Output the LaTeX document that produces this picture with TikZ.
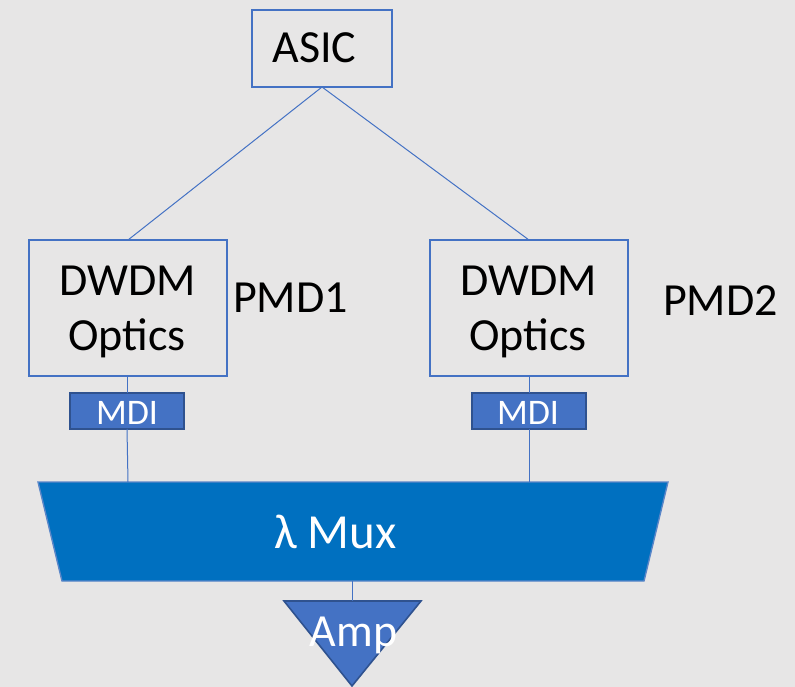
\documentclass[tikz,border=0pt]{standalone}
\usepackage{fontspec}
\setmainfont{Carlito}
\definecolor{bg}{HTML}{E7E6E6}
\definecolor{accent}{HTML}{4472C4}
\definecolor{accentdark}{HTML}{2F528F}
\definecolor{muxfill}{HTML}{0070C0}
\definecolor{muxedge}{HTML}{5A86C8}
\tikzset{
  box/.style={draw=accent, line width=1.4pt, fill=none, inner sep=0pt, outer sep=0pt},
  mdibox/.style={draw=accentdark, line width=1.6pt, fill=accent, inner sep=0pt, outer sep=0pt, minimum width=114pt, minimum height=36pt},
  link/.style={draw=accent, line width=1pt},
  bigtxt/.style={font=\fontsize{46}{55}\selectfont, text=black, inner sep=0pt, anchor=base},
  whitetxt/.style={font=\fontsize{46}{55}\selectfont, text=white, inner sep=0pt, anchor=base},
  mditxt/.style={font=\fontsize{36}{42}\selectfont, text=white, inner sep=0pt, anchor=base}
}
\begin{document}
\begin{tikzpicture}[x=1pt,y=-1pt]
\fill[bg] (0,0) rectangle (795,687);
\useasboundingbox (0,0) rectangle (795,687);

% boxes
\node[box, minimum width=140pt, minimum height=77pt] (asic) at (322,48.5) {};
\node[box, minimum width=198pt, minimum height=136pt] (dw1) at (128,308) {};
\node[box, minimum width=198pt, minimum height=136pt] (dw2) at (529,308) {};
\node[mdibox] (mdi1) at (127,411) {};
\node[mdibox] (mdi2) at (529,411) {};

% mux trapezoid
\coordinate (mtl) at (38,482);
\coordinate (mtr) at (668,482);
\coordinate (mbr) at (644,581);
\coordinate (mbl) at (62,581);
\draw[fill=muxfill, draw=muxedge, line width=1.4pt] (mtl) -- (mtr) -- (mbr) -- (mbl) -- cycle;
\coordinate (mux1) at (128,482);
\coordinate (mux2) at (529,482);
\coordinate (muxb) at (352,581);

% amp triangle
\coordinate (atl) at (284,601);
\coordinate (atr) at (421,601);
\coordinate (atip) at (352,686);
\coordinate (ampt) at (352,601);
\draw[fill=accent, draw=accentdark, line width=1.6pt, line join=miter] (atl) -- (atr) -- (atip) -- cycle;

% connectors
\draw[link] (asic.south) -- (dw1.north);
\draw[link] (asic.south) -- (dw2.north);
\draw[link] (dw1.south -| mdi1) -- (mdi1.north);
\draw[link] (dw2.south) -- (mdi2.north);
\draw[link] (mdi1.south) -- (mux1);
\draw[link] (mdi2.south) -- (mux2);
\draw[link] (muxb) -- (ampt);

% texts
\node[bigtxt] (asict) at (314.5,63) {ASIC};
\node[bigtxt] (dw1a) at (127.5,295) {DWDM};
\node[bigtxt] (dw1b) at (127,350) {Optics};
\node[bigtxt] (dw2a) at (528.5,295) {DWDM};
\node[bigtxt] (dw2b) at (528,350) {Optics};
\node[bigtxt, anchor=base west] (pmd1) at (233,312) {PMD1};
\node[bigtxt, anchor=base west] (pmd2) at (663,315) {PMD2};
\node[mditxt] (mdi1t) at (127,424) {MDI};
\node[mditxt] (mdi2t) at (528,424) {MDI};
\node[whitetxt, font=\fontsize{49}{58}\selectfont, anchor=base west] (muxt) at (274,548) {λ Mux};
\node[whitetxt] (ampx) at (353.5,646) {Amp};
\end{tikzpicture}
\end{document}
